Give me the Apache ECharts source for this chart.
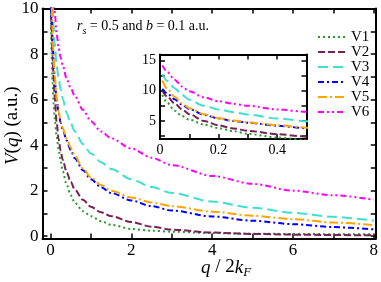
<!DOCTYPE html>
<html><head><meta charset="utf-8">
<script src="https://cdn.jsdelivr.net/npm/echarts@6/dist/echarts.min.js"></script>
<style>html,body{margin:0;padding:0;background:#fff}#c{width:381px;height:282px}</style>
</head><body><div id="c"></div>
<script>
// q / 2kF values
const q  = [0.003, 0.008, 0.025, 0.05, 0.075, 0.1, 0.15, 0.2, 0.25, 0.3, 0.4, 0.5, 0.6, 0.8, 1.0, 1.25, 1.5, 2.0, 2.5, 3, 4, 5, 6, 7, 8];
const V1 = [14, 9.3, 8.0, 6.7, 5.8, 5.2, 4.4, 3.8, 3.3, 2.85, 2.25, 1.8, 1.47, 1.1, 0.88, 0.66, 0.5, 0.32, 0.24, 0.2, 0.14, 0.11, 0.1, 0.09, 0.08];
const V2 = [15, 10.0, 9.0, 7.9, 6.9, 6.1, 5.0, 4.25, 3.75, 3.35, 2.8, 2.38, 2.05, 1.6, 1.29, 1.05, 0.88, 0.62, 0.42, 0.29, 0.16, 0.1, 0.07, 0.05, 0.04];
const V3 = [16, 12.8, 11.6, 10.4, 9.3, 8.5, 7.5, 6.9, 6.45, 6.05, 5.4, 4.95, 4.6, 4.05, 3.63, 3.25, 2.95, 2.5, 2.16, 1.9, 1.52, 1.25, 1.03, 0.85, 0.68];
const V4 = [15, 10.3, 9.5, 8.6, 7.7, 6.95, 6.0, 5.4, 4.98, 4.7, 4.2, 3.78, 3.42, 2.9, 2.5, 2.15, 1.9, 1.57, 1.32, 1.13, 0.87, 0.68, 0.53, 0.4, 0.3];
const V5 = [16, 11.7, 10.3, 9.0, 7.9, 7.1, 6.1, 5.45, 5.05, 4.75, 4.28, 3.88, 3.53, 2.98, 2.58, 2.25, 2.0, 1.7, 1.48, 1.32, 1.08, 0.9, 0.75, 0.6, 0.49];
const V6 = [18, 14.2, 13.1, 11.8, 10.7, 9.9, 8.9, 8.25, 7.85, 7.5, 6.9, 6.5, 6.15, 5.55, 5.05, 4.6, 4.3, 3.85, 3.45, 3.12, 2.65, 2.3, 2.0, 1.8, 1.6];
const names = ['V1', 'V2', 'V3', 'V4', 'V5', 'V6'];
const values = [V1, V2, V3, V4, V5, V6];

// tick positions / labels
const mainXTicks = [0, 1, 2, 3, 4, 5, 6, 7, 8];
const mainXLabels = [0, 2, 4, 6, 8];
const mainYTicks = [0, 1, 2, 3, 4, 5, 6, 7, 8, 9, 10];
const mainYLabels = [0, 2, 4, 6, 8, 10];
const insetXTicks = [0, 0.1, 0.2, 0.3, 0.4, 0.5];
const insetXLabels = [0, 0.2, 0.4];
const insetYTicks = [2.5, 5, 7.5, 10, 12.5, 15];
const insetYLabels = [5, 10, 15];

const colors = ['#2a9a2a', '#782058', '#40e0d0', '#0000ff', '#ffa500', '#ff00ff'];
const dashes = [[2, 3], [7, 3], [10, 5], [6, 3, 2, 3], [9, 3, 2, 3], [6, 3, 2, 3, 2, 3]];
const FONT = 'Liberation Serif';

function axis(gridIndex, pos, min, max, ticks, labels, showLabel, fs) {
  return {
    type: 'value', gridIndex, position: pos, min, max,
    axisLine: { show: true, onZero: false, lineStyle: { color: '#000', width: 2 } },
    axisTick: { show: true, inside: true, length: 5, customValues: ticks, lineStyle: { color: '#000', width: 1.5 } },
    axisLabel: { show: showLabel, customValues: labels, fontFamily: FONT, fontSize: fs, color: '#000', margin: 4 },
    splitLine: { show: false }
  };
}

const series = [];
values.forEach((v, k) => {
  const ls = { color: colors[k], width: 2, type: dashes[k] };
  series.push({
    name: names[k], type: 'line', xAxisIndex: 0, yAxisIndex: 0, symbol: 'none',
    smooth: 0.3, smoothMonotone: 'x', clip: true,
    data: q.map((x, i) => [x, v[i]]), lineStyle: ls, itemStyle: { color: colors[k] }
  });
});
values.forEach((v, k) => {
  const ls = { color: colors[k], width: 2, type: dashes[k] };
  series.push({
    name: names[k], type: 'line', xAxisIndex: 2, yAxisIndex: 2, symbol: 'none',
    smooth: 0.3, smoothMonotone: 'x', clip: true,
    data: q.slice(1).map((x, i) => [x, v[i + 1]]), lineStyle: ls, itemStyle: { color: colors[k] }
  });
});

const chart = echarts.init(document.getElementById('c'), null, { renderer: 'canvas' });
chart.setOption({
  animation: false,
  backgroundColor: '#fff',
  grid: [
    { left: 42.5, top: 7, width: 334.5, height: 231.5 },
    { left: 160, top: 54.5, width: 146.5, height: 84.5 }
  ],
  xAxis: [
    axis(0, 'bottom', -0.2, 8.05, mainXTicks, mainXLabels, true, 17),
    axis(0, 'top', -0.2, 8.05, mainXTicks, mainXLabels, false, 17),
    axis(1, 'bottom', 0, 0.5, insetXTicks, insetXLabels, true, 14),
    axis(1, 'top', 0, 0.5, insetXTicks, insetXLabels, false, 14)
  ],
  yAxis: [
    axis(0, 'left', -0.1, 10, mainYTicks, mainYLabels, true, 17),
    axis(0, 'right', -0.1, 10, mainYTicks, mainYLabels, false, 17),
    axis(1, 'left', 2, 16, insetYTicks, insetYLabels, true, 14),
    axis(1, 'right', 2, 16, insetYTicks, insetYLabels, false, 14)
  ],
  legend: {
    data: names, orient: 'vertical', left: 312, top: 24.5,
    itemWidth: 28, itemHeight: 8, itemGap: 0,
    itemStyle: { opacity: 0 },
    textStyle: { fontFamily: FONT, fontSize: 15, lineHeight: 13.3, color: '#000' }
  },
  graphic: [
    { type: 'text', left: 77, top: 19, style: {
      text: '{i|r}{s|s}{n| = 0.5 and }{i|b}{n| = 0.1 a.u.}',
      rich: {
        i: { fontFamily: FONT, fontSize: 14, fontStyle: 'italic', lineHeight: 20, verticalAlign: 'middle', fill: '#000' },
        s: { fontFamily: FONT, fontSize: 10, fontStyle: 'italic', lineHeight: 20, verticalAlign: 'bottom', fill: '#000' },
        n: { fontFamily: FONT, fontSize: 14, lineHeight: 20, verticalAlign: 'middle', fill: '#000' }
      } } },
    { type: 'text', left: 201, top: 258, style: {
      text: '{i|q}{n| / 2}{i|k}{s|F}',
      rich: {
        i: { fontFamily: FONT, fontSize: 19, fontStyle: 'italic', lineHeight: 24, verticalAlign: 'middle', fill: '#000' },
        s: { fontFamily: FONT, fontSize: 13, fontStyle: 'italic', lineHeight: 24, verticalAlign: 'bottom', fill: '#000' },
        n: { fontFamily: FONT, fontSize: 19, lineHeight: 24, verticalAlign: 'middle', fill: '#000' }
      } } },
    { type: 'text', x: 3, y: 165, rotation: Math.PI / 2, style: {
      text: '{i|V}{n|(}{i|q}{n|) (a.u.)}',
      rich: {
        i: { fontFamily: FONT, fontSize: 19, fontStyle: 'italic', fill: '#000' },
        n: { fontFamily: FONT, fontSize: 19, fill: '#000' }
      } } }
  ],
  series
});
</script>
</body></html>
